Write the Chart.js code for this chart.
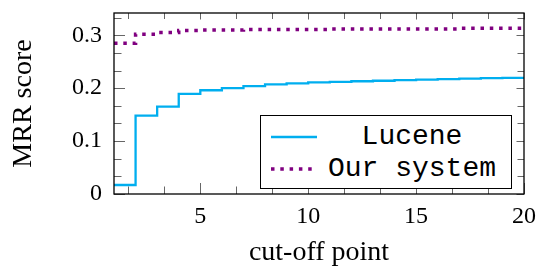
<!DOCTYPE html>
<html>
<head>
<meta charset="utf-8">
<script src="https://cdn.jsdelivr.net/npm/chart.js@4/dist/chart.umd.min.js"></script>
<style>
  html, body { margin: 0; padding: 0; background: #fff; }
  #wrap { position: relative; width: 540px; height: 269px; }
  #legend {
    position: absolute; box-sizing: border-box;
    border: 1.3px solid #000; background: #fff;
    font-family: "Liberation Mono", "DejaVu Sans Mono", monospace;
    font-size: 28px; color: #000;
  }
  .row { position: absolute; left: 0; right: 0; height: 30px; }
  .row svg { position: absolute; left: 9px; top: 0; }
  .row span { position: absolute; left: 64px; width: 174px; text-align: center; line-height: 30px; white-space: pre; }
</style>
</head>
<body>
<div id="wrap">
  <canvas id="c" width="540" height="269"></canvas>
  <div id="legend"></div>
</div>
<script>
// ---- data ----
const cutoffs = [1,2,3,4,5,6,7,8,9,10,11,12,13,14,15,16,17,18,19,20];
const luceneMRR = [0.017,0.148,0.165,0.189,0.196,0.200,0.204,0.207,0.209,0.211,0.212,0.213,0.214,0.215,0.216,0.217,0.218,0.219,0.2195,0.220];
const ourSystemMRR = [0.285,0.302,0.305,0.309,0.310,0.310,0.311,0.311,0.311,0.311,0.312,0.312,0.312,0.312,0.312,0.312,0.313,0.313,0.313,0.313];
const seriesNames = ["Lucene", "Our system"];
const xTickValues = [5,10,15,20];
const yTickValues = [0,0.1,0.2,0.3];
const xMinorTicks = [1.6667,3.3333,6.6667,8.3333,11.6667,13.3333,16.6667,18.3333];
const yMinorTicks = [0.03333,0.06667,0.13333,0.16667,0.23333,0.26667,0.33333];

const LUCENE_COLOR = "#00AEEF";
const OURS_COLOR = "#800080";
const SERIF = "'Liberation Serif', 'Times New Roman', serif";
Chart.defaults.font.family = SERIF;
Chart.defaults.color = '#000';

const frameAndTicks = {
  id: 'frameAndTicks',
  afterDatasetsDraw(chart) {
    const {ctx, chartArea: a, scales: {x, y}} = chart;
    ctx.save();
    ctx.strokeStyle = '#666';
    ctx.lineWidth = 1;
    const vt = (px, len, top) => {
      ctx.beginPath();
      if (top) { ctx.moveTo(px, a.top); ctx.lineTo(px, a.top + len); }
      else { ctx.moveTo(px, a.bottom); ctx.lineTo(px, a.bottom - len); }
      ctx.stroke();
    };
    const ht = (py, len, right) => {
      ctx.beginPath();
      if (right) { ctx.moveTo(a.right, py); ctx.lineTo(a.right - len, py); }
      else { ctx.moveTo(a.left, py); ctx.lineTo(a.left + len, py); }
      ctx.stroke();
    };
    xTickValues.forEach(v => { const p = Math.round(x.getPixelForValue(v)) + 0.5; vt(p, 11, false); vt(p, 6.5, true); });
    xMinorTicks.forEach(v => { const p = Math.round(x.getPixelForValue(v)) + 0.5; vt(p, 7.5, false); vt(p, 6, true); });
    yTickValues.forEach(v => { const p = Math.round(y.getPixelForValue(v)) + 0.5; ht(p, 11, false); ht(p, 7.5, true); });
    yMinorTicks.forEach(v => { const p = Math.round(y.getPixelForValue(v)) + 0.5; ht(p, 7.5, false); ht(p, 6.5, true); });
    ctx.strokeStyle = '#000';
    ctx.lineWidth = 1.3;
    ctx.strokeRect(a.left, a.top, a.right - a.left, a.bottom - a.top);
    ctx.restore();
  },
  afterRender(chart) {
    const a = chart.chartArea;
    const lg = document.getElementById('legend');
    lg.style.left = (a.left + 146) + 'px';
    lg.style.top = (a.top + 102) + 'px';
    lg.style.width = '252px';
    lg.style.height = '74px';
  }
};

const tickFont = { family: SERIF, size: 24 };
const titleFont = { family: SERIF, size: 28 };

const chart = new Chart(document.getElementById('c'), {
  type: 'line',
  data: {
    datasets: [
      {
        label: seriesNames[0],
        data: cutoffs.map((c, i) => ({x: c, y: luceneMRR[i]})),
        borderColor: LUCENE_COLOR, backgroundColor: LUCENE_COLOR,
        borderWidth: 2.3, stepped: true, pointRadius: 0, fill: false
      },
      {
        label: seriesNames[1],
        data: cutoffs.map((c, i) => ({x: c, y: ourSystemMRR[i]})),
        borderColor: OURS_COLOR, backgroundColor: OURS_COLOR,
        borderWidth: 3.5, borderDash: [3.5, 5.8], borderCapStyle: 'butt',
        stepped: true, pointRadius: 0, fill: false
      }
    ]
  },
  options: {
    responsive: false,
    animation: false,
    events: [],
    layout: { padding: { top: 13, right: 16, left: 0, bottom: 0 } },
    plugins: { legend: { display: false }, tooltip: { enabled: false } },
    scales: {
      x: {
        type: 'linear', min: 1, max: 20,
        afterBuildTicks: s => { s.ticks = xTickValues.map(v => ({value: v})); },
        afterFit: s => { s.height = 75; s.paddingLeft = 0; s.paddingRight = 0; },
        grid: { display: false, drawTicks: false },
        border: { display: false },
        ticks: { color: '#000', font: tickFont, padding: 8, maxRotation: 0, autoSkip: false },
        title: { display: true, text: 'cut-off point', color: '#000', font: titleFont, padding: { top: 0, bottom: 0 } }
      },
      y: {
        type: 'linear', min: 0, max: 0.342,
        afterBuildTicks: s => { s.ticks = yTickValues.map(v => ({value: v})); },
        afterFit: s => { s.width = 114; s.paddingTop = 0; s.paddingBottom = 0; },
        grid: { display: false, drawTicks: false },
        border: { display: false },
        ticks: { color: '#000', font: tickFont, padding: 12, callback: v => String(v) },
        title: { display: true, text: 'MRR score', color: '#000', font: titleFont, padding: { top: 7, bottom: 0 } }
      }
    }
  },
  plugins: [frameAndTicks]
});

// legend (HTML, real text)
const lg = document.getElementById('legend');
const rows = [
  { name: seriesNames[0], top: 6, color: LUCENE_COLOR, w: 2.3, dash: '' },
  { name: seriesNames[1], top: 38, color: OURS_COLOR, w: 3.5, dash: '3.5 5.8' }
];
rows.forEach(r => {
  const d = document.createElement('div');
  d.className = 'row';
  d.style.top = r.top + 'px';
  d.innerHTML = '<svg width="48" height="30"><line x1="1" y1="15" x2="47" y2="15" stroke="' + r.color +
    '" stroke-width="' + r.w + '"' + (r.dash ? ' stroke-dasharray="' + r.dash + '"' : '') + '/></svg>' +
    '<span></span>';
  d.querySelector('span').textContent = r.name;
  lg.appendChild(d);
});
</script>
</body>
</html>
